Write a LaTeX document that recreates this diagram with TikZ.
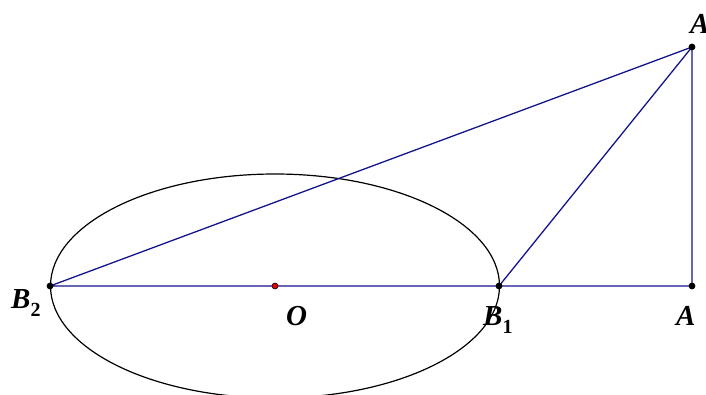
\documentclass[tikz,border=0pt]{standalone}
\usepackage{fontspec}
\setmainfont{Liberation Serif}
\usepackage{tikz}
\usetikzlibrary{positioning}
\definecolor{segblue}{RGB}{20,20,140}
\definecolor{ptred}{RGB}{230,0,0}
\newcommand{\sublbl}[1]{\raisebox{-0.28em}{\fontsize{20}{20}\selectfont\upshape#1}}
\tikzset{
  fig/.style={x=1pt,y=-1pt,line join=round},
  seg/.style={draw=segblue,line width=1.3pt},
  curve/.style={draw=black,line width=1.2pt},
  dot/.style={fill=black},
  lbl/.style={font=\fontsize{29}{32}\selectfont\bfseries\itshape,inner sep=0pt},
}

\begin{document}
\begin{tikzpicture}[fig]
\useasboundingbox (0,0) rectangle (706,394);
\coordinate (B2) at (50,286);
\coordinate (O) at (275,286);
\coordinate (B1) at (499,286);
\coordinate (A) at (692,286);
\coordinate (Ap) at (692,47);
\draw[curve] (O) ellipse [x radius=224.5,y radius=112];
\draw[seg] (B2)--(B1)--(A)--(Ap)--(B2);
\draw[seg] (B1)--(Ap);
\foreach \p in {B2,B1,A,Ap} {\fill[dot] (\p) circle (3.4);}
\filldraw[fill=ptred,draw=black,line width=0.6pt] (O) circle (3);
\node[lbl,anchor=base west] (lB2) at (11,308) {B\sublbl{2}};
\node[lbl,anchor=base west] (lO) at (286,325) {O};
\node[lbl,anchor=base west] (lB1) at (483,325) {B\sublbl{1}};
\node[lbl,anchor=base west] (lA) at (676,325) {A};
\node[lbl,anchor=base west] (lAp) at (690,33) {A$'$};
\end{tikzpicture}
\end{document}
